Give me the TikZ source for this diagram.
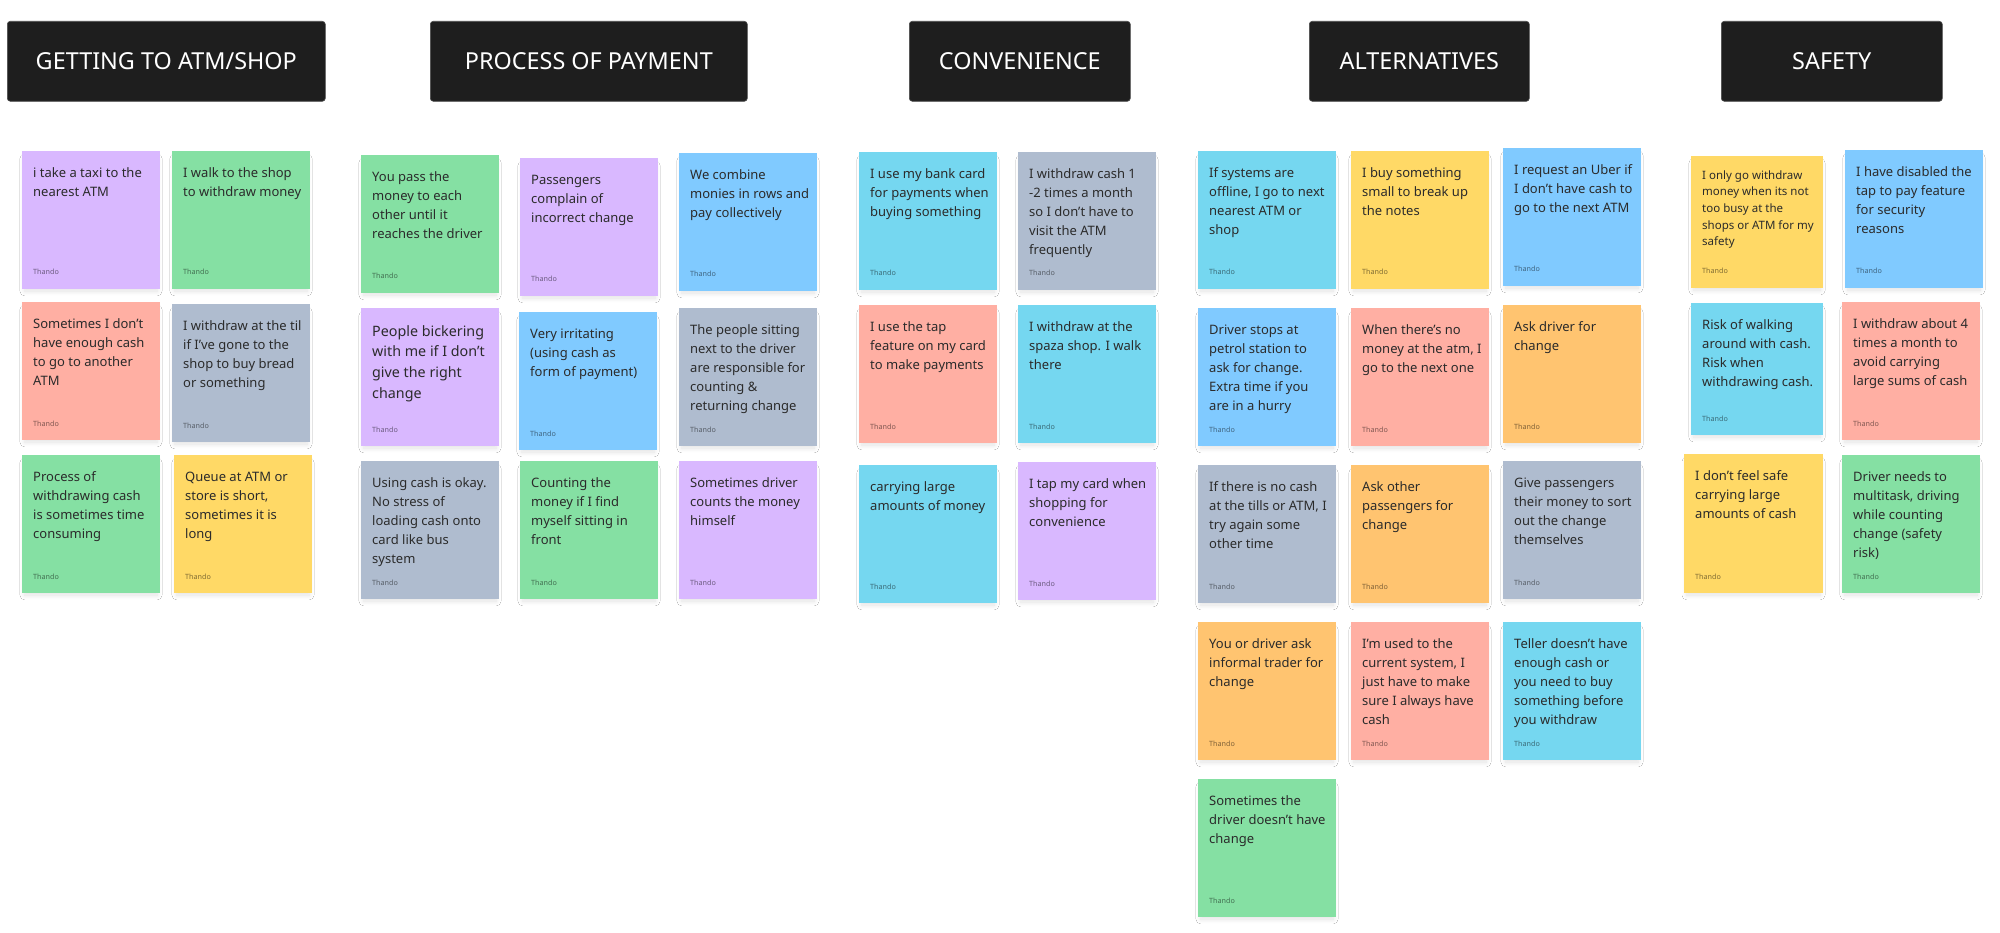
\documentclass[tikz,border=0pt]{standalone}
\usepackage{fontspec}
\setmainfont{Noto Sans}
\usetikzlibrary{shadows.blur}

% sticky note palette
\definecolor{stpurple}{HTML}{D9B8FF}
\definecolor{stgreen}{HTML}{85E0A3}
\definecolor{stblue}{HTML}{80CAFF}
\definecolor{styellow}{HTML}{FFD966}
\definecolor{storange}{HTML}{FFC470}
\definecolor{stred}{HTML}{FFAFA3}
\definecolor{stteal}{HTML}{75D7F0}
\definecolor{stgray}{HTML}{AFBCCF}
\definecolor{headfill}{HTML}{1E1E1E}
\definecolor{inkdark}{HTML}{2B2B2B}

\tikzset{
  header/.style={fill=headfill, draw=black!70, line width=0.6pt, rounded corners=3pt,
    anchor=north west, inner sep=0pt, text=white,
    font=\fontsize{23.4}{28}\selectfont},
  stickybox/.style={draw=none, inner sep=0pt, outer sep=0pt, anchor=north west,
    blur shadow={shadow scale=0.96, shadow xshift=0pt, shadow yshift=-5pt,
      shadow blur radius=5pt, shadow blur steps=12, shadow opacity=12}},
  stickytext/.style={anchor=north west, inner sep=0pt, align=left, text=inkdark,
    xshift=11pt},
  txtN/.style={font=\fontsize{13}{19}\selectfont, yshift=-12.7pt},
  txtL/.style={font=\fontsize{14.3}{20.8}\selectfont, yshift=-13.4pt},
  txtS/.style={font=\fontsize{11.5}{16.7}\selectfont, yshift=-11.3pt},
  author/.style={anchor=base west, inner sep=0pt, text=black, text opacity=0.5,
    font=\fontsize{7.2}{8}\selectfont},
}

% #1 name, #2 x, #3 y, #4 side, #5 fill, #6 text size style, #7 text
\newcommand{\sticky}[7]{%
  \node[stickybox, fill=#5, minimum width=#4pt, minimum height=#4pt] (#1) at (#2,#3) {};
  \node[stickytext, #6] (#1-t) at (#1.north west) {\strut #7};
  \node[author] (#1-a) at ([xshift=11pt, yshift=14pt]#1.south west) {Thando};
}

% #1 name, #2 x, #3 y, #4 width, #5 title
\newcommand{\heading}[5]{%
  \node[header, minimum width=#4pt, minimum height=80pt] (#1) at (#2,#3) {#5};
}

\begin{document}
\begin{tikzpicture}[x=1pt, y=-1pt]
\fill[white] (0,0) rectangle (2000,933);
\useasboundingbox (0,0) rectangle (2000,933);

% column headings
\heading{hGetting}{7}{21}{318}{GETTING TO ATM/SHOP}
\heading{hPayment}{430}{21}{317}{PROCESS OF PAYMENT}
\heading{hConvenience}{909}{21}{221}{CONVENIENCE}
\heading{hAlternatives}{1309}{21}{220}{ALTERNATIVES}
\heading{hSafety}{1721}{21}{221}{SAFETY}

% getting to ATM/shop
\sticky{ga}{22}{151}{138}{stpurple}{txtN}{i take a taxi to the\\nearest ATM}
\sticky{gb}{172}{151}{138}{stgreen}{txtN}{I walk to the shop\\to withdraw money}
\sticky{gc}{22}{302}{138}{stred}{txtN}{Sometimes I don’t\\have enough cash\\to go to another\\ATM}
\sticky{gd}{172}{304}{138}{stgray}{txtN}{I withdraw at the til\\if I’ve gone to the\\shop to buy bread\\or something}
\sticky{ge}{22}{455}{138}{stgreen}{txtN}{Process of\\withdrawing cash\\is sometimes time\\consuming}
\sticky{gf}{174}{455}{138}{styellow}{txtN}{Queue at ATM or\\store is short,\\sometimes it is\\long}

% process of payment
\sticky{pa}{361}{155}{138}{stgreen}{txtN}{You pass the\\money to each\\other until it\\reaches the driver}
\sticky{pb}{520}{158}{138}{stpurple}{txtN}{Passengers\\complain of\\incorrect change}
\sticky{pc}{679}{153}{138}{stblue}{txtN}{We combine\\monies in rows and\\pay collectively}
\sticky{pd}{361}{308}{138}{stpurple}{txtL}{People bickering\\with me if I don’t\\give the right\\change}
\sticky{pe}{519}{312}{138}{stblue}{txtN}{Very irritating\\(using cash as\\form of payment)}
\sticky{pf}{679}{308}{138}{stgray}{txtN}{The people sitting\\next to the driver\\are responsible for\\counting \&\\returning change}
\sticky{pg}{361}{461}{138}{stgray}{txtN}{Using cash is okay.\\No stress of\\loading cash onto\\card like bus\\system}
\sticky{ph}{520}{461}{138}{stgreen}{txtN}{Counting the\\money if I find\\myself sitting in\\front}
\sticky{pi}{679}{461}{138}{stpurple}{txtN}{Sometimes driver\\counts the money\\himself}

% convenience
\sticky{ca}{859}{152}{138}{stteal}{txtN}{I use my bank card\\for payments when\\buying something}
\sticky{cb}{1018}{152}{138}{stgray}{txtN}{I withdraw cash 1\\-2 times a month\\so I don’t have to\\visit the ATM\\frequently}
\sticky{cc}{859}{305}{138}{stred}{txtN}{I use the tap\\feature on my card\\to make payments}
\sticky{cd}{1018}{305}{138}{stteal}{txtN}{I withdraw at the\\spaza shop. I walk\\there}
\sticky{ce}{859}{465}{138}{stteal}{txtN}{carrying large\\amounts of money}
\sticky{cf}{1018}{462}{138}{stpurple}{txtN}{I tap my card when\\shopping for\\convenience}

% alternatives
\sticky{aa}{1198}{151}{138}{stteal}{txtN}{If systems are\\offline, I go to next\\nearest ATM or\\shop}
\sticky{ab}{1351}{151}{138}{styellow}{txtN}{I buy something\\small to break up\\the notes}
\sticky{ac}{1503}{148}{138}{stblue}{txtN}{I request an Uber if\\I don’t have cash to\\go to the next ATM}
\sticky{ad}{1198}{308}{138}{stblue}{txtN}{Driver stops at\\petrol station to\\ask for change.\\Extra time if you\\are in a hurry}
\sticky{ae}{1351}{308}{138}{stred}{txtN}{When there’s no\\money at the atm, I\\go to the next one}
\sticky{af}{1503}{305}{138}{storange}{txtN}{Ask driver for\\change}
\sticky{ag}{1198}{465}{138}{stgray}{txtN}{If there is no cash\\at the tills or ATM, I\\try again some\\other time}
\sticky{ah}{1351}{465}{138}{storange}{txtN}{Ask other\\passengers for\\change}
\sticky{ai}{1503}{461}{138}{stgray}{txtN}{Give passengers\\their money to sort\\out the change\\themselves}
\sticky{aj}{1198}{622}{138}{storange}{txtN}{You or driver ask\\informal trader for\\change}
\sticky{ak}{1351}{622}{138}{stred}{txtN}{I'm used to the\\current system, I\\just have to make\\sure I always have\\cash}
\sticky{al}{1503}{622}{138}{stteal}{txtN}{Teller doesn’t have\\enough cash or\\you need to buy\\something before\\you withdraw}
\sticky{am}{1198}{779}{138}{stgreen}{txtN}{Sometimes the\\driver doesn't have\\change}

% safety
\sticky{sa}{1691}{156}{132}{styellow}{txtS}{I only go withdraw\\money when its not\\too busy at the\\shops or ATM for my\\safety}
\sticky{sb}{1845}{150}{138}{stblue}{txtN}{I have disabled the\\tap to pay feature\\for security\\reasons}
\sticky{sc}{1691}{303}{132}{stteal}{txtN}{Risk of walking\\around with cash.\\Risk when\\withdrawing cash.}
\sticky{sd}{1842}{302}{138}{stred}{txtN}{I withdraw about 4\\times a month to\\avoid carrying\\large sums of cash}
\sticky{se}{1684}{454}{139}{styellow}{txtN}{I don’t feel safe\\carrying large\\amounts of cash}
\sticky{sf}{1842}{455}{138}{stgreen}{txtN}{Driver needs to\\multitask, driving\\while counting\\change (safety\\risk)}
\end{tikzpicture}
\end{document}
